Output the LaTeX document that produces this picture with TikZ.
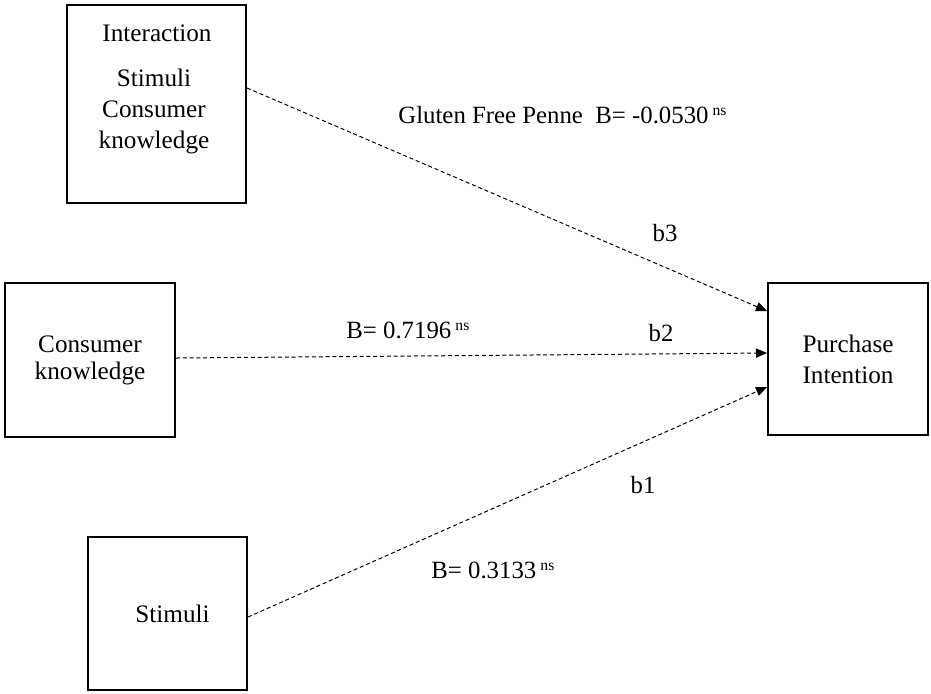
\documentclass[tikz,border=0pt]{standalone}
\usepackage{fontspec}
\setmainfont{Liberation Serif}
\usetikzlibrary{arrows.meta}

\tikzset{
  varbox/.style={draw, line width=1pt, inner sep=0pt, align=center,
    font=\fontsize{12.6}{15}\selectfont},
  lbl/.style={inner sep=0pt, font=\fontsize{12.4}{15}\selectfont},
  path/.style={dash pattern=on 2pt off 1.4pt, line width=0.5pt,
    -{Triangle[length=5.5pt,width=4.6pt]}},
}
\newcommand{\nsmark}{\,\raisebox{0.7ex}{\fontsize{7.8}{8}\selectfont ns}}

\begin{document}
\begin{tikzpicture}[x=0.5pt, y=-0.5pt]
  \useasboundingbox (0,0) rectangle (931,693);

  % variable boxes
  \node[varbox, minimum width=89.5pt, minimum height=99pt] (inter) at (156.5,104) {};
  \node[lbl, font=\fontsize{12.6}{15}\selectfont] (tinter) at (157,33) {Interaction};
  \node[lbl, align=center, font=\fontsize{12.6}{15.5}\selectfont] (tinter2) at (154,111)
    {Stimuli\\Consumer\\knowledge};

  \node[varbox, minimum width=85pt, minimum height=77pt,
        font=\fontsize{12.6}{13.5}\selectfont] (ck) at (90,360) {Consumer\\knowledge};

  \node[varbox, minimum width=79.5pt, minimum height=76.5pt] (st) at (167.5,613.5)
    {\hspace*{5pt}Stimuli};

  \node[varbox, minimum width=80pt, minimum height=76pt,
        font=\fontsize{12.6}{15.5}\selectfont] (pi) at (848,359) {Purchase\\Intention};

  % paths
  \draw[path] ([yshift=8pt]inter.east) -- ([yshift=24pt]pi.west);
  \draw[path] ([yshift=1pt]ck.east) -- ([yshift=3pt]pi.west);
  \draw[path] ([yshift=-1.75pt]st.east) -- ([yshift=-14pt]pi.west);

  % coefficients
  \node[lbl, anchor=west] (b3coef) at (398,115) {Gluten Free Penne\ \ B= -0.0530\nsmark};
  \node[lbl] (b3) at (665,233) {b3};
  \node[lbl, anchor=west] (b2coef) at (346,330) {B= 0.7196\nsmark};
  \node[lbl] (b2) at (661,333) {b2};
  \node[lbl] (b1) at (643,485) {b1};
  \node[lbl, anchor=west] (b1coef) at (431,570) {B= 0.3133\nsmark};
\end{tikzpicture}
\end{document}
